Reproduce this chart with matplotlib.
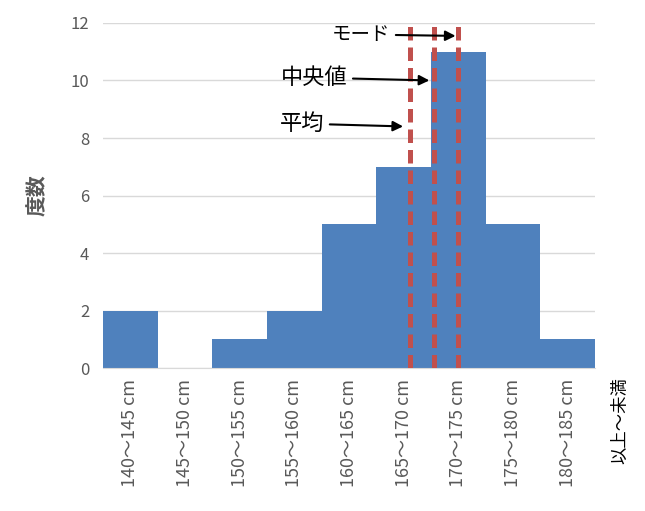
import numpy as np
import matplotlib.pyplot as plt

plt.rcParams['font.family'] = ['Noto Sans CJK JP', 'DejaVu Sans']

# histogram data
bin_edges = [140, 145, 150, 155, 160, 165, 170, 175, 180, 185]
counts = [2, 0, 1, 2, 5, 7, 11, 5, 1]
bin_labels = ['140～145 cm', '145～150 cm', '150～155 cm', '155～160 cm', '160～165 cm',
              '165～170 cm', '170～175 cm', '175～180 cm', '180～185 cm']

# representative values
mean_val = 168.1
median_val = 170.3
mode_val = 172.5

fig = plt.figure(figsize=(6.45, 5.11), dpi=100)
ax = fig.add_axes([0.1597, 0.2798, 0.7628, 0.6752])

lefts = np.array(bin_edges[:-1])
ax.bar(lefts, counts, width=5, align='edge', color='#4F81BD', zorder=2)

for v in (mean_val, median_val, mode_val):
    ax.plot([v, v], [0, 12], color='#C0504D', lw=3.6, ls=(0, (2.7, 1.4)), zorder=3)

ax.set_xlim(140, 185)
ax.set_ylim(0, 12)
ax.set_yticks(range(0, 13, 2))
ax.set_xticks(lefts + 2.5)
ax.set_xticklabels(bin_labels, rotation=90, fontsize=13, color='#595959')
ax.tick_params(axis='y', labelsize=12, labelcolor='#595959', length=0, pad=10)
ax.tick_params(axis='x', length=0, pad=8)
ax.grid(axis='y', color='#D9D9D9', lw=1, zorder=0)
for s in ['top', 'right', 'left']:
    ax.spines[s].set_visible(False)
ax.spines['bottom'].set_color('#D9D9D9')

ax.set_ylabel('度数', fontsize=15, color='#595959', fontweight='bold', labelpad=16)

arrow = dict(arrowstyle='-|>', color='black', lw=1.5, mutation_scale=15)
ax.annotate('モード', xy=(mode_val, 11.55), xytext=(163.6, 11.6), fontsize=14,
            ha='center', va='center', arrowprops=arrow)
ax.annotate('中央値', xy=(median_val - 0.2, 10.0), xytext=(159.3, 10.1), fontsize=16,
            ha='center', va='center', arrowprops=arrow)
ax.annotate('平均', xy=(mean_val - 0.4, 8.4), xytext=(158.2, 8.5), fontsize=16,
            ha='center', va='center', arrowprops=arrow)

fig.text(0.962, 0.2798 - 0.018, '以上～未満', rotation=90, fontsize=12.5, ha='center', va='top')

fig.savefig('out.png', dpi=100)
